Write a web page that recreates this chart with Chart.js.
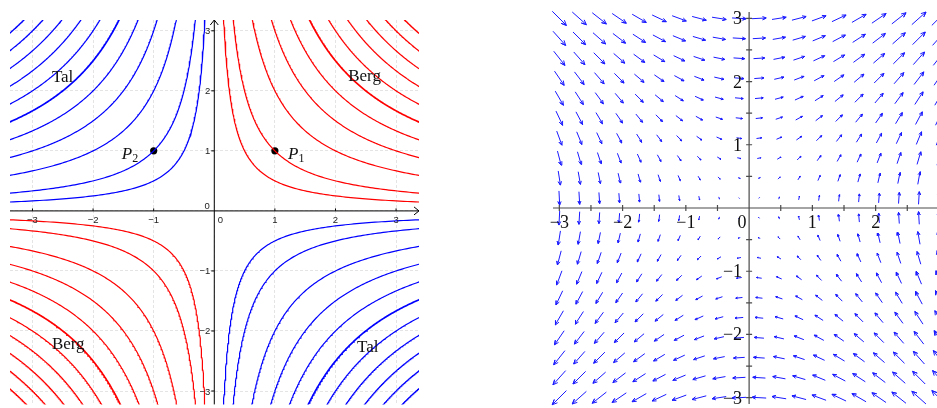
<!DOCTYPE html>
<html lang="de">
<head>
<meta charset="utf-8">
<title>Höhenlinien und Gradientenfeld von f(x,y) = x·y</title>
<script src="https://cdn.jsdelivr.net/npm/chart.js@4.4.1/dist/chart.umd.min.js"></script>
<style>
    html, body { margin: 0; padding: 0; background: #fff; overflow: hidden; }
    #leftChart  { position: absolute; left: 0;     top: 0; }
    #rightChart { position: absolute; left: 540px; top: 0; }
</style>
</head>
<body>
<canvas id="leftChart" width="430" height="408"></canvas>
<canvas id="rightChart" width="397" height="408"></canvas>

<script>
// --- DATEN ---
// Niveaus der Höhenlinien x*y = c (rot: c > 0 "Berg", blau: c < 0 "Tal")
const levels = [0.5, 1, 2, 3, 4, 5, 6, 7, 8, 9, 10];
const boldLevel = 5;
const leftTicks = [-3, -2, -1, 0, 1, 2, 3];

// markierte Punkte P1, P2
const markedPoints = [{ x: 1, y: 1 }, { x: -1, y: 1 }];
const markedNames = ['1', '2'];

// Beschriftung der Gebiete
const regionNames = ['Tal', 'Berg', 'Berg', 'Tal'];
const regionAnchors = [[-2.68, 2.14], [2.21, 2.16], [-2.68, -2.30], [2.355, -2.35]];

// Gitter des Gradientenfeldes (20 x 20 Punkte von -3 bis 3)
const fieldCoords = [-3, -2.684, -2.368, -2.053, -1.737, -1.421, -1.105, -0.789, -0.474, -0.158,
                     0.158, 0.474, 0.789, 1.105, 1.421, 1.737, 2.053, 2.368, 2.684, 3];
const rightTicks = [-3, -2, -1, 0, 1, 2, 3];

document.addEventListener('DOMContentLoaded', function() {

    const MINUS = '\u2212';
    const fmt = v => (v < 0 ? MINUS + (-v) : String(v));

    // Ast der Hyperbel x*y = c, sx = Vorzeichen von x
    function branch(c, sx) {
        const r = Math.sqrt(Math.abs(c));
        const sy = Math.sign(c) * sx;
        const t0 = Math.log(r / 3.6), t1 = Math.log(3.6 / r);
        const pts = [];
        for (let i = 0; i <= 160; i++) {
            const t = t0 + (t1 - t0) * i / 160;
            pts.push({ x: sx * r * Math.exp(t), y: sy * r * Math.exp(-t) });
        }
        return pts;
    }

    function curve(data, color, width) {
        return {
            data: data, showLine: true, borderColor: color, borderWidth: width,
            pointRadius: 0, pointHoverRadius: 0, fill: false, tension: 0
        };
    }

    // --- LINKES DIAGRAMM: Höhenlinien ---
    const leftSets = [];
    levels.forEach(c => {
        const w = c === boldLevel ? 1.7 : 1.2;
        leftSets.push(curve(branch(c, 1), '#ff0000', w));
        leftSets.push(curve(branch(c, -1), '#ff0000', w));
        leftSets.push(curve(branch(-c, -1), '#0000ff', w));
        leftSets.push(curve(branch(-c, 1), '#0000ff', w));
    });
    leftSets.push({
        data: markedPoints, showLine: false, pointRadius: 3.6, pointHoverRadius: 3.6,
        backgroundColor: '#000', borderColor: '#000', borderWidth: 0
    });

    const leftDecor = {
        id: 'leftDecor',
        afterDatasetsDraw(chart) {
            const { ctx, chartArea: a, scales: { x, y } } = chart;
            const ox = x.getPixelForValue(0), oy = y.getPixelForValue(0);
            ctx.save();
            ctx.strokeStyle = '#000';
            ctx.lineWidth = 1;

            // Achsen mit Pfeilspitzen
            ctx.beginPath();
            ctx.moveTo(a.left, oy); ctx.lineTo(a.right, oy);
            ctx.moveTo(ox, a.bottom); ctx.lineTo(ox, a.top);
            ctx.moveTo(a.right - 5, oy - 4); ctx.lineTo(a.right, oy); ctx.lineTo(a.right - 5, oy + 4);
            ctx.moveTo(ox - 4, a.top + 5); ctx.lineTo(ox, a.top); ctx.lineTo(ox + 4, a.top + 5);
            ctx.stroke();

            // Teilstriche und Zahlen
            ctx.font = '9.5px "Liberation Sans"';
            ctx.fillStyle = '#222';
            leftTicks.forEach(v => {
                const px = x.getPixelForValue(v), py = y.getPixelForValue(v);
                if (v !== 0) {
                    ctx.beginPath();
                    ctx.moveTo(px, oy); ctx.lineTo(px, oy - 2.5);
                    ctx.moveTo(ox, py); ctx.lineTo(ox - 3, py);
                    ctx.stroke();
                    ctx.textAlign = 'center';
                    ctx.fillText(fmt(v), px, oy + 12);
                    ctx.textAlign = 'right';
                    ctx.fillText(fmt(v), ox - 4, py + 3.5);
                }
            });
            ctx.textAlign = 'center';
            ctx.fillText('0', ox + 6, oy + 12.5);
            ctx.textAlign = 'right';
            ctx.fillText('0', ox - 4.5, oy - 1.5);

            // Gebiete
            ctx.fillStyle = '#111';
            ctx.textAlign = 'left';
            ctx.font = '17px "Liberation Serif"';
            regionNames.forEach((t, i) => {
                ctx.fillText(t, x.getPixelForValue(regionAnchors[i][0]), y.getPixelForValue(regionAnchors[i][1]));
            });

            // P1, P2
            const offsets = [13, -32];
            markedPoints.forEach((p, i) => {
                const px = x.getPixelForValue(p.x) + offsets[i], py = y.getPixelForValue(p.y);
                ctx.font = 'italic 17px "Liberation Serif"';
                ctx.fillText('P', px, py + 8);
                ctx.font = '12px "Liberation Serif"';
                ctx.fillText(markedNames[i], px + 10.5, py + 11);
            });
            ctx.restore();
        }
    };

    new Chart(document.getElementById('leftChart').getContext('2d'), {
        type: 'scatter',
        data: { datasets: leftSets },
        options: {
            responsive: false,
            animation: false,
            events: [],
            layout: { padding: { left: 10, top: 20, right: 11, bottom: 0 } },
            plugins: { legend: { display: false }, tooltip: { enabled: false } },
            scales: {
                x: {
                    type: 'linear', min: -3.371, max: 3.378, position: { y: 0 },
                    ticks: { display: false, stepSize: 1, includeBounds: false },
                    grid: { color: '#e4e4e4', drawTicks: false },
                    border: { display: false, dash: [3, 2] }
                },
                y: {
                    type: 'linear', min: -3.223, max: 3.18, position: { x: 0 },
                    ticks: { display: false, stepSize: 1, includeBounds: false },
                    grid: { color: '#e4e4e4', drawTicks: false },
                    border: { display: false, dash: [3, 2] }
                }
            }
        },
        plugins: [leftDecor]
    });

    // --- RECHTES DIAGRAMM: Gradientenfeld grad f = (y, x) ---
    const arrowScale = 0.0745;   // Länge pro Betrag
    const arrowPts = [];
    fieldCoords.forEach(gx => {
        fieldCoords.forEach(gy => {
            const u = gy, v = gx;
            const m = Math.hypot(u, v);
            const L = m * arrowScale;
            const dx = u / m, dy = v / m;
            const hx = gx + dx * L / 2, hy = gy + dy * L / 2;
            const hl = L * 0.28, ang = 0.42;
            const c = Math.cos(ang), s = Math.sin(ang);
            arrowPts.push(
                { x: gx - dx * L / 2, y: gy - dy * L / 2 },
                { x: hx, y: hy },
                { x: hx - hl * (dx * c - dy * s), y: hy - hl * (dx * s + dy * c) },
                { x: hx, y: hy },
                { x: hx - hl * (dx * c + dy * s), y: hy - hl * (-dx * s + dy * c) },
                { x: null, y: null }
            );
        });
    });

    const rightDecor = {
        id: 'rightDecor',
        afterDatasetsDraw(chart) {
            const { ctx, chartArea: a, scales: { x, y } } = chart;
            const ox = x.getPixelForValue(0), oy = y.getPixelForValue(0);
            ctx.save();
            ctx.strokeStyle = '#4a4a4a';
            ctx.lineWidth = 1.2;
            ctx.beginPath();
            ctx.moveTo(a.left, oy); ctx.lineTo(a.right, oy);
            ctx.moveTo(ox, a.top); ctx.lineTo(ox, a.bottom);
            rightTicks.forEach(v => {
                [v, v + 0.5].forEach(t => {
                    if (t > 3 || t === 0) return;
                    const px = x.getPixelForValue(t), py = y.getPixelForValue(t);
                    ctx.moveTo(px, oy - 3); ctx.lineTo(px, oy + 3);
                    ctx.moveTo(ox - 3, py); ctx.lineTo(ox + 3, py);
                });
            });
            ctx.stroke();

            ctx.font = '18px "Liberation Serif"';
            ctx.fillStyle = '#111';
            rightTicks.forEach(v => {
                if (v === 0) return;
                const px = x.getPixelForValue(v);
                ctx.textAlign = 'center';
                if (px <= a.right) ctx.fillText(fmt(v), px, oy + 20);
                ctx.textAlign = 'right';
                ctx.fillText(fmt(v), ox - 7, y.getPixelForValue(v) + 6);
            });
            ctx.textAlign = 'center';
            ctx.fillText('0', ox - 7, oy + 20);
            ctx.restore();
        }
    };

    new Chart(document.getElementById('rightChart').getContext('2d'), {
        type: 'scatter',
        data: {
            datasets: [{
                data: arrowPts, showLine: true, spanGaps: false, clip: false,
                borderColor: '#1a1aff', borderWidth: 1, borderJoinStyle: 'round',
                pointRadius: 0, pointHoverRadius: 0, fill: false, tension: 0
            }]
        },
        options: {
            responsive: false,
            animation: false,
            events: [],
            layout: { padding: { left: 13, top: 12, right: 0, bottom: 4 } },
            plugins: { legend: { display: false }, tooltip: { enabled: false } },
            scales: {
                x: { type: 'linear', min: -3.1, max: 2.97, display: false },
                y: { type: 'linear', min: -3.1, max: 3.1, display: false }
            }
        },
        plugins: [rightDecor]
    });
});
</script>
</body>
</html>
